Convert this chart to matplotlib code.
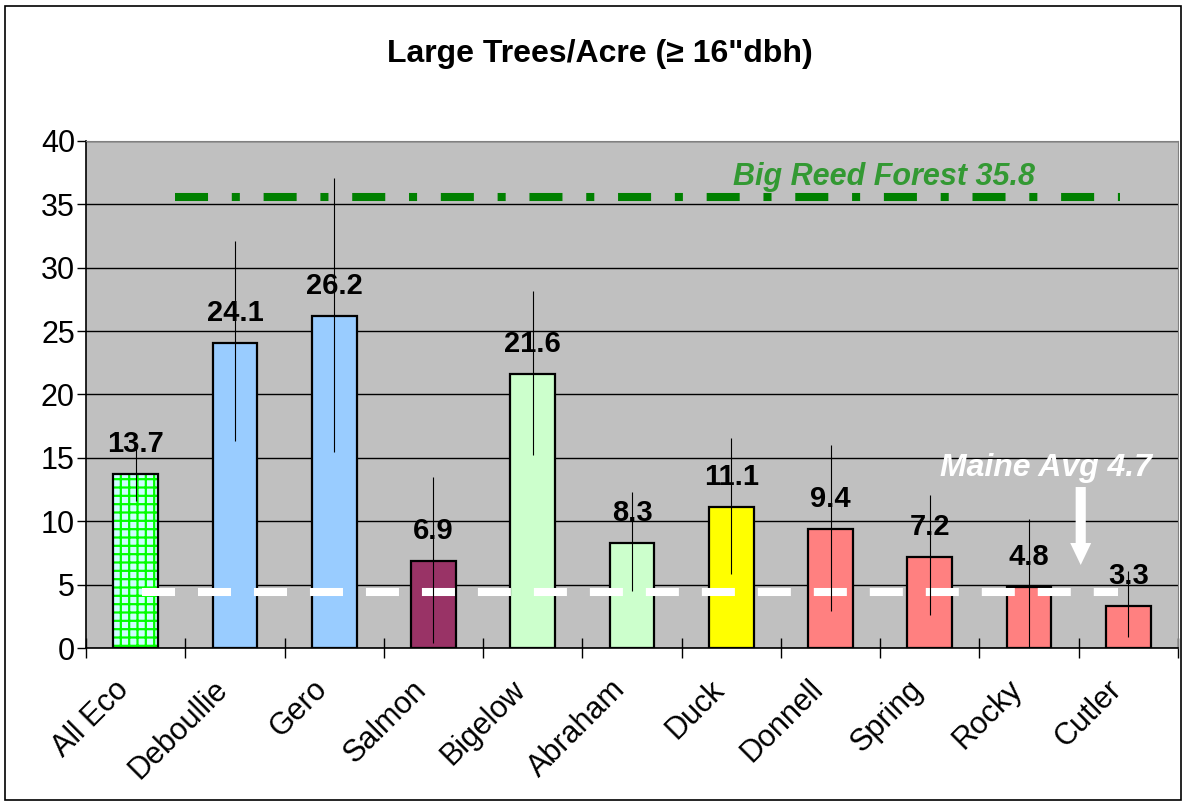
import numpy as np
import matplotlib
matplotlib.use("Agg")
import matplotlib.pyplot as plt
from matplotlib.patches import Rectangle
from matplotlib.transforms import ScaledTranslation

plt.rcParams.update({
    "font.family": ["Liberation Sans", "DejaVu Sans"],
    "hatch.linewidth": 1.6,
})

# data
sites = ["All Eco", "Deboullie", "Gero", "Salmon", "Bigelow", "Abraham",
         "Duck", "Donnell", "Spring", "Rocky", "Cutler"]
trees_per_acre = [13.7, 24.1, 26.2, 6.9, 21.6, 8.3, 11.1, 9.4, 7.2, 4.8, 3.3]
err_center = [13.65, 24.2, 26.3, 6.95, 21.7, 8.4, 11.2, 9.45, 7.35, 5.0, 3.5]
err_half = [2.05, 7.9, 10.8, 6.55, 6.5, 3.9, 5.4, 6.55, 4.75, 5.2, 2.6]
bar_colors = ["#CCFFFF", "#99CCFF", "#99CCFF", "#993366", "#CCFFCC", "#CCFFCC",
              "#FFFF00", "#FF8080", "#FF8080", "#FF8080", "#FF8080"]

big_reed_level = 35.6
big_reed_label = "Big Reed Forest 35.8"
maine_level = 4.45
maine_label = "Maine Avg 4.7"

W, H = 1187, 805
fig = plt.figure(figsize=(W / 100, H / 100), dpi=100)
fig.patch.set_facecolor("white")
fig.patches.append(Rectangle((5 / W, 5 / H), 1176 / W, 794 / H, transform=fig.transFigure,
                             fill=False, edgecolor="black", linewidth=1.2))

ax = fig.add_axes([86 / W, 1 - 648 / H, 1092 / W, 507 / H])
ax.set_facecolor("#C0C0C0")

x = np.arange(len(sites))
ax.set_xlim(-0.5, len(sites) - 0.5)
ax.set_ylim(0, 40)
ax.set_yticks(np.arange(0, 41, 5))
ax.yaxis.grid(True, color="black", linewidth=1.0)
ax.set_axisbelow(True)

# bars: hatched first bar, solid others
for i, (v, c) in enumerate(zip(trees_per_acre, bar_colors)):
    if i == 0:
        ax.bar(i, v, width=0.45, color=c, edgecolor="#00FF00", hatch="++", linewidth=0, zorder=2)
        ax.bar(i, v, width=0.45, fill=False, edgecolor="black", linewidth=1.6, zorder=3)
    else:
        ax.bar(i, v, width=0.45, color=c, edgecolor="black", linewidth=1.6, zorder=3)

# reference lines
ax.plot([0.064, 9.9], [maine_level] * 2, color="white", linewidth=5.8,
        dashes=(4.1, 2.85), dash_capstyle="butt", zorder=4)
ax.plot([0.396, 9.913], [big_reed_level] * 2, color="#008000", linewidth=5.8,
        dashes=(4.1, 2.95, 1.0, 2.95), dash_capstyle="butt", zorder=4)

ax.errorbar(x, err_center, yerr=err_half, fmt="none", ecolor="black",
            elinewidth=0.8, capsize=0, zorder=5)

for i, v in enumerate(trees_per_acre):
    ax.annotate(f"{v:.1f}", (i, v), xytext=(0, 15.8), textcoords="offset points",
                ha="center", va="baseline", fontsize=21, fontweight="bold", zorder=6)

ax.text(7.54, 35.6 + 0.9, big_reed_label, color="#339933", fontsize=22,
        fontweight="bold", fontstyle="italic", ha="center", va="baseline")
ax.text(9.17, 13.55, maine_label, color="white", fontsize=23,
        fontweight="bold", fontstyle="italic", ha="center", va="baseline")
ax.annotate("", xy=(9.52, 6.55), xytext=(9.52, 12.7),
            arrowprops=dict(arrowstyle="simple,head_length=1.13,head_width=1.08,tail_width=0.52",
                            mutation_scale=14, color="white", linewidth=0, shrinkA=0, shrinkB=0))

# axes styling
for side in ("top", "right"):
    ax.spines[side].set_color("#808080")
for side in ("left", "bottom"):
    ax.spines[side].set_color("black")
    ax.spines[side].set_linewidth(1.2)

ax.tick_params(axis="y", direction="out", length=6.5, width=1, labelsize=22, pad=1.5)
ax.set_xticks(np.arange(-0.5, len(sites)), labels=[])
ax.tick_params(axis="x", which="major", direction="inout", length=15, width=1)
ax.set_xticks(x, labels=sites, minor=True)
ax.tick_params(axis="x", which="minor", length=0, labelsize=22, pad=19)
for lbl in ax.get_xticklabels(minor=True):
    lbl.set_rotation(45)
    lbl.set_ha("right")
    lbl.set_rotation_mode("anchor")
    lbl.set_transform(lbl.get_transform() + ScaledTranslation(-0.22, 0, fig.dpi_scale_trans))

fig.text(0.505, 1 - 62 / H, "Large Trees/Acre (\u2265 16\"dbh)", ha="center", va="baseline",
         fontsize=23, fontweight="bold")

fig.savefig("out.png", dpi=100)
